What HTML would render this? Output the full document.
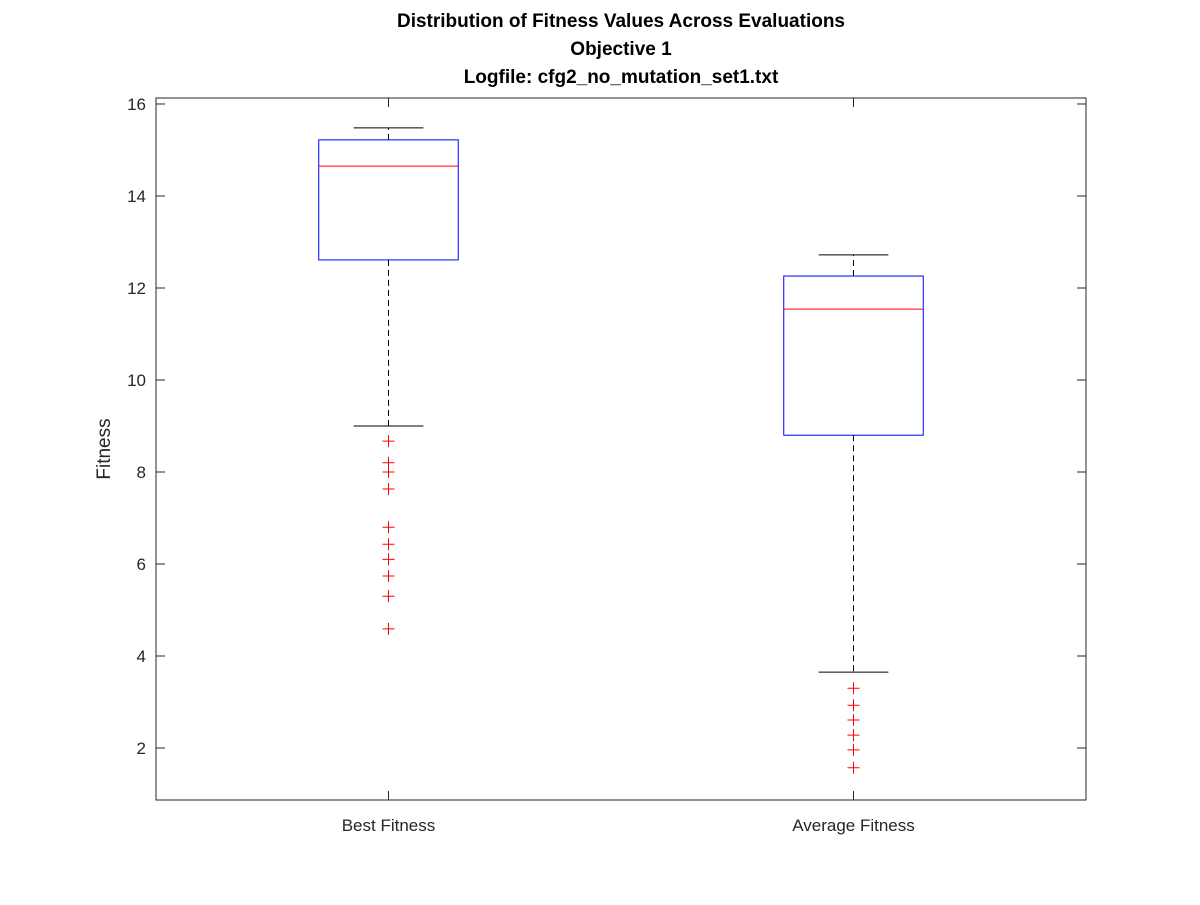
<!DOCTYPE html>
<html><head><meta charset="utf-8"><style>
body{margin:0;background:#fff;}
svg text{font-family:"Liberation Sans",Arial,sans-serif;}
</style></head><body>
<svg id="chart" width="1200" height="900" xmlns="http://www.w3.org/2000/svg">
<rect width="1200" height="900" fill="#fff"/>
<g id="plot"></g>
</svg>
<script>
const categories=["Best Fitness","Average Fitness"];
const whiskerLow=[9.0,3.65];
const q1=[12.61,8.8];
const medians=[14.65,11.54];
const q3=[15.22,12.26];
const whiskerHigh=[15.48,12.72];
const outliersBest=[8.67,8.2,8.0,7.63,6.8,6.43,6.1,5.74,5.3,4.59];
const outliersAvg=[3.3,2.93,2.61,2.28,1.96,1.57];
const yTicks=[2,4,6,8,10,12,14,16];

const L=156,R=1086,T=98,B=800,yMin=0.87,yMax=16.13;
const ys=v=>B-(v-yMin)/(yMax-yMin)*(B-T);
const xs=i=>L+(i+0.5)*(R-L)/2;
const NS="http://www.w3.org/2000/svg";
const g=document.getElementById('plot');
function el(t,a,txt){const e=document.createElementNS(NS,t);for(const k in a)e.setAttribute(k,a[k]);if(txt!=null)e.textContent=txt;g.appendChild(e);return e;}

let ax=el('rect',{x:L,y:T,width:R-L,height:B-T,fill:'none',stroke:'#262626','stroke-width':1});


yTicks.forEach(v=>{
  const y=ys(v);
  let t1=el('line',{x1:L,x2:L+9,y1:y,y2:y,stroke:'#262626'});
  
  
  let t2=el('line',{x1:R-9,x2:R,y1:y,y2:y,stroke:'#262626'});
  
  
  let lb=el('text',{x:L-10,y:y+6,'text-anchor':'end','font-size':17,fill:'#262626'},v);
  
  
});
const boxW=(R-L)/2*0.3, capW=(R-L)/2*0.15;
const outs=[outliersBest,outliersAvg];
categories.forEach((c,i)=>{
  const x=xs(i);
  let t1=el('line',{x1:x,x2:x,y1:B,y2:B-9,stroke:'#262626'});
  
  
  let t2=el('line',{x1:x,x2:x,y1:T,y2:T+9,stroke:'#262626'});
  
  
  let lb=el('text',{x:x,y:831,'text-anchor':'middle','font-size':17,fill:'#262626'},c);
  
  
  let w1=el('line',{x1:x,x2:x,y1:ys(q3[i]),y2:ys(whiskerHigh[i]),stroke:'#000','stroke-dasharray':'6,4'});
  
  
  let w2=el('line',{x1:x,x2:x,y1:ys(q1[i]),y2:ys(whiskerLow[i]),stroke:'#000','stroke-dasharray':'6,4'});
  
  
  let c1=el('line',{x1:x-capW/2,x2:x+capW/2,y1:ys(whiskerHigh[i]),y2:ys(whiskerHigh[i]),stroke:'#000'});
  
  
  let c2=el('line',{x1:x-capW/2,x2:x+capW/2,y1:ys(whiskerLow[i]),y2:ys(whiskerLow[i]),stroke:'#000'});
  
  
  let bx=el('rect',{x:x-boxW/2,y:ys(q3[i]),width:boxW,height:ys(q1[i])-ys(q3[i]),fill:'none',stroke:'#0000ff'});
  
  
  let md=el('line',{x1:x-boxW/2,x2:x+boxW/2,y1:ys(medians[i]),y2:ys(medians[i]),stroke:'#ff0000'});
  
  
  outs[i].forEach(v=>{
    const y=ys(v);
    let p=el('path',{d:`M${x-6},${y}H${x+6}M${x},${y-6}V${y+6}`,stroke:'#ff0000','stroke-width':1});
    
    
  });
});
let yl=el('text',{x:110,y:449,'text-anchor':'middle','font-size':19,fill:'#262626',transform:'rotate(-90 110 449)'},'Fitness');


["Distribution of Fitness Values Across Evaluations","Objective 1","Logfile: cfg2_no_mutation_set1.txt"].forEach((s,k)=>{
  let t=el('text',{x:621,y:27+k*28,'text-anchor':'middle','font-size':19,'font-weight':'bold',fill:'#000'},s);
  
  
});
</script>
</body></html>
